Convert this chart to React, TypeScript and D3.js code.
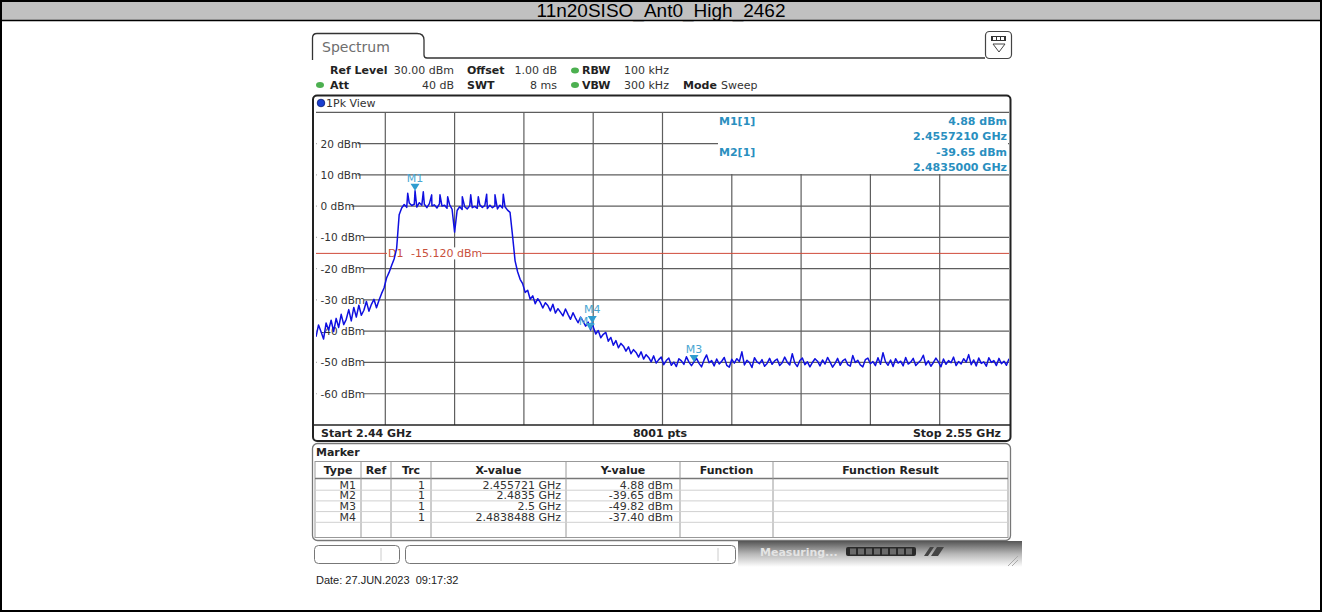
import React from 'react';
import * as d3 from 'd3';

// ---------------- data ----------------
const TITLE = '11n20SISO_Ant0_High_2462';
const DATE_TEXT = 'Date: 27.JUN.2023  09:17:32';
const START_MHZ = 2440;
const STOP_MHZ = 2550;
const STEP_MHZ = 0.4; // trace sample spacing (read every 0.4 MHz)
const REF_LEVEL = 30;
const BOTTOM_LEVEL = -70;
const Y_TICKS = [20, 10, 0, -10, -20, -30, -40, -50, -60];
const X_DIVS = 10;
const D1_LEVEL = -15.12;
const D1_TEXT = '-15.120 dBm';

// trace level (dBm), one value per 0.4 MHz from 2440 MHz
const TRACE_DBM = [
  -41.8, -38.0, -40.2, -42.5, -37.4, -39.6, -36.5, -40.1, -35.9, -38.8,
  -34.6, -37.9, -36.2, -33.1, -36.7, -32.4, -35.5, -31.7, -34.9, -33.3,
  -30.5, -33.6, -31.4, -29.8, -32.5, -30.1, -28.0, -26.2, -23.0, -21.2,
  -19.0, -16.9, -13.5, -2.8, -0.6, 0.5, -0.4, 1.0, 0.2, 0.6,
  -0.3, 1.1, 0.3, 0.6, -0.5, 0.8, 0.1, 0.4, -0.6, 0.7,
  0.0, 0.3, -0.7, 0.5, -1.0, -8.3, -1.4, -0.2, -1.1, -0.2,
  -0.9, 0.1, -0.5, -0.1, -0.7, 0.4, -0.4, 0.2, -0.8, 0.3,
  -0.5, 0.1, -0.9, 0.3, -0.6, -0.2, -1.3, -2.0, -9.5, -17.5,
  -21.0, -23.4, -24.8, -27.6, -26.9, -29.8, -28.7, -31.2, -29.6, -30.8,
  -32.6, -30.9, -31.8, -33.5, -31.4, -34.2, -32.8, -33.9, -35.1, -32.9,
  -34.6, -36.2, -34.1, -35.8, -37.3, -35.5, -36.9, -38.4, -37.1, -39.6,
  -38.6, -40.9, -39.8, -42.1, -41.0, -40.4, -43.2, -42.0, -44.5, -43.0,
  -45.3, -43.9, -44.8, -46.4, -45.0, -47.2, -45.9, -46.8, -48.3, -46.6,
  -48.9, -47.5, -48.4, -49.8, -47.9, -50.2, -49.1, -48.3, -50.7, -49.4,
  -48.6, -50.9, -49.9, -51.3, -48.8, -49.5, -50.6, -48.2, -49.9, -51.0,
  -49.8, -48.7, -50.3, -51.4, -49.2, -47.6, -50.1, -49.4, -51.1, -48.9,
  -50.5, -49.6, -48.4, -50.9, -51.5, -49.0, -50.2, -48.8, -49.7, -46.6,
  -50.8, -49.3, -50.0, -51.6, -48.5, -49.8, -50.4, -49.1, -51.2, -50.3,
  -48.7, -50.6, -49.5, -48.9, -51.0, -50.1, -48.3, -49.9, -50.8, -47.2,
  -50.2, -51.3, -49.4, -48.6, -50.7, -49.8, -51.4, -50.0, -48.8, -49.6,
  -51.1, -49.2, -50.5, -48.4, -49.9, -51.5, -50.3, -48.7, -50.9, -49.5,
  -48.9, -50.7, -51.2, -47.8, -50.0, -49.3, -50.8, -51.4, -49.1, -48.6,
  -50.4, -49.7, -51.0, -48.5, -50.6, -46.9, -49.8, -50.9, -49.2, -51.3,
  -48.8, -50.2, -49.6, -51.1, -48.4, -50.5, -49.9, -48.7, -51.0, -50.1,
  -49.3, -47.7, -50.8, -49.5, -51.2, -50.0, -48.6, -49.8, -51.4, -48.9,
  -50.6, -49.4, -50.1, -48.3, -51.0, -49.7, -50.5, -48.8, -49.9, -47.5,
  -50.7, -49.2, -51.1, -48.6, -50.3, -49.8, -51.2, -48.5, -50.0, -49.4,
  -51.0, -48.7, -50.4, -49.6, -50.9, -48.8,
];

// pilot / peak spikes seen on the in-band plateau and the M4 peak [MHz, dBm]
const TRACE_PEAKS: [number, number][] = [
  [2454.56, 4.1], [2455.721, 4.88], [2457.03, 4.6], [2458.36, 3.6], [2459.68, 3.6], [2460.9, 3.0],
  [2463.22, 3.0], [2464.56, 3.6], [2465.76, 3.0], [2467.09, 3.8], [2468.41, 3.6], [2469.73, 3.8],
  [2483.8488, -37.4],
];

const MARKER_NAMES = ['M1', 'M2', 'M3', 'M4'];
const MARKER_MHZ = [2455.721, 2483.5, 2500, 2483.8488];
const MARKER_DBM = [4.88, -39.65, -49.82, -37.4];

const INFO_LINES = [
  ['M1[1]', '4.88 dBm'],
  ['', '2.4557210 GHz'],
  ['M2[1]', '-39.65 dBm'],
  ['', '2.4835000 GHz'],
];

const TABLE_HEAD = ['Type', 'Ref', 'Trc', 'X-value', 'Y-value', 'Function', 'Function Result'];
const TABLE_TYPE = ['M1', 'M2', 'M3', 'M4'];
const TABLE_TRC = ['1', '1', '1', '1'];
const TABLE_X = ['2.455721 GHz', '2.4835 GHz', '2.5 GHz', '2.4838488 GHz'];
const TABLE_Y = ['4.88 dBm', '-39.65 dBm', '-49.82 dBm', '-37.40 dBm'];

// ---------------- layout ----------------
const W = 1322;
const H = 612;
const PX0 = 316, PX1 = 1009, PY0 = 112.3, PY1 = 425;
const INS = '"DejaVu Sans", Verdana, sans-serif';
const ARIAL = '"Liberation Sans", Arial, sans-serif';
const TRACE_COLOR = '#1010e0';
const MARK_COLOR = '#2f9ccf';
const INFO_COLOR = '#2a8fbf';
const GRID = '#5e5e5e';

const COLS = [315, 361, 391, 431, 566, 680, 773, 1008];

export default function App() {
  const x = d3.scaleLinear().domain([START_MHZ, STOP_MHZ]).range([PX0, PX1]);
  const y = d3.scaleLinear().domain([REF_LEVEL, BOTTOM_LEVEL]).range([PY0, PY1]);

  const base: [number, number][] = TRACE_DBM.map((v, i) => [START_MHZ + i * STEP_MHZ, v]);
  const pts = base.concat(TRACE_PEAKS).sort((a, b) => a[0] - b[0]);
  const line = d3.line<[number, number]>().x((d) => x(d[0])).y((d) => y(d[1]));
  const tracePath = line(pts) || '';

  const vStep = (STOP_MHZ - START_MHZ) / X_DIVS;
  const vLines = d3.range(X_DIVS + 1).map((k) => START_MHZ + k * vStep);
  const hLines = d3.range(REF_LEVEL, BOTTOM_LEVEL - 1, -10);

  const rowTop = 479.5;
  const rowH = 10.7;
  const labelOffset: Record<string, [number, number]> = { M2: [-3, 4], M4: [0, -1] };

  return (
    <svg width={W} height={H} style={{ position: 'absolute', left: 0, top: 0, background: '#fff' }}>
      <defs>
        <linearGradient id="sb" x1="0" y1="0" x2="0" y2="1">
          <stop offset="0" stopColor="#555" />
          <stop offset="0.5" stopColor="#b8b8b8" />
          <stop offset="1" stopColor="#ffffff" />
        </linearGradient>
        <clipPath id="plotclip">
          <rect x={PX0} y={PY0} width={PX1 - PX0} height={PY1 - PY0} />
        </clipPath>
      </defs>
      <rect x={0} y={0} width={W} height={H} fill="#fff" />
      {/* title bar */}
      <rect x={0} y={0} width={W} height={20} fill="#c0c0c0" />
      <line x1={0} y1={20.5} x2={W} y2={20.5} stroke="#000" strokeWidth={1.5} />
      <text x={661} y={16.5} textAnchor="middle" fontFamily={ARIAL} fontSize={19} fill="#000">{TITLE}</text>
      <rect x={1} y={1} width={W - 2} height={H - 2} fill="none" stroke="#000" strokeWidth={2} />

      {/* Spectrum tab */}
      <path d="M312.5,60 L312.5,38 Q312.5,33.5 317,33.5 L417,33.5 Q424,33.5 424,40 L424,55 Q424,58 427,58 L985,58" fill="none" stroke="#333" strokeWidth={1.3} />
      <text x={322} y={51.5} fontFamily={INS} fontSize={14} fill="#6e6e6e">Spectrum</text>
      {/* top-right icon */}
      <rect x={985.5} y={31.5} width={26} height={27} rx={4} fill="#fff" stroke="#444" strokeWidth={1.2} />
      <rect x={991} y={36} width={15} height={5} fill="#333" />
      <rect x={993} y={37} width={3} height={3} fill="#fff" />
      <rect x={997} y={37} width={3} height={3} fill="#fff" />
      <rect x={1001} y={37} width={3} height={3} fill="#fff" />
      <path d="M993,44 L1005,44 L999,52 Z" fill="none" stroke="#444" strokeWidth={1} />

      {/* settings */}
      <g fontFamily={INS} fontSize={11} fill="#222">
        <text x={330} y={74} fontWeight="bold">Ref Level</text>
        <text x={454} y={74} textAnchor="end" fill="#333">30.00 dBm</text>
        <text x={467} y={74} fontWeight="bold">Offset</text>
        <text x={557} y={74} textAnchor="end" fill="#333">1.00 dB</text>
        <ellipse cx={575} cy={70.5} rx={4} ry={3} fill="#4cb050" />
        <text x={582} y={74} fontWeight="bold">RBW</text>
        <text x={624} y={74} fill="#333">100 kHz</text>

        <ellipse cx={320} cy={85} rx={4} ry={3} fill="#4cb050" />
        <text x={330} y={89} fontWeight="bold">Att</text>
        <text x={454} y={89} textAnchor="end" fill="#333">40 dB</text>
        <text x={467} y={89} fontWeight="bold">SWT</text>
        <text x={557} y={89} textAnchor="end" fill="#333">8 ms</text>
        <ellipse cx={575} cy={85} rx={4} ry={3} fill="#4cb050" />
        <text x={582} y={89} fontWeight="bold">VBW</text>
        <text x={624} y={89} fill="#333">300 kHz</text>
        <text x={683} y={89} fontWeight="bold">Mode</text>
        <text x={721} y={89} fill="#333">Sweep</text>
      </g>

      {/* plot frame */}
      <rect x={313} y={95.5} width={697.5} height={345.5} rx={4} fill="#fff" stroke="#222" strokeWidth={2} />
      <circle cx={321} cy={103} r={3.8} fill="#1a3fd0" stroke="#0a1a70" strokeWidth={0.8} />
      <text x={326} y={107} fontFamily={INS} fontSize={11} fill="#333">1Pk View</text>

      {/* grid */}
      <g stroke={GRID} strokeWidth={1.2}>
        {vLines.slice(1, -1).map((f) => (
          <line key={'v' + f} x1={x(f)} y1={PY0} x2={x(f)} y2={PY1} />
        ))}
        {hLines.slice(0, -1).map((v) => (
          <line key={'h' + v} x1={PX0} y1={y(v)} x2={PX1} y2={y(v)} />
        ))}
      </g>
      <line x1={PX0 - 2} y1={PY1} x2={PX1 + 1} y2={PY1} stroke="#222" strokeWidth={1.5} />

      {/* marker info box */}
      <rect x={718} y={113} width={290} height={61} fill="#fff" />
      <g fontFamily={INS} fontSize={11} fontWeight="bold" fill={INFO_COLOR}>
        {INFO_LINES.map((l, i) => (
          <g key={'info' + i}>
            {l[0] && <text x={719} y={125 + i * 15.4}>{l[0]}</text>}
            <text x={1007} y={125 + i * 15.4} textAnchor="end">{l[1]}</text>
          </g>
        ))}
      </g>

      {/* y labels */}
      <g fontFamily={INS} fontSize={10.5} fill="#333">
        {Y_TICKS.map((v) => {
          const label = `${v} dBm`;
          const w = label.length * 6.05 + 2;
          return (
            <g key={'yl' + v}>
              <rect x={316.5} y={y(v) - 6} width={w + 3} height={12} fill="#fff" />
              <text x={320.5} y={y(v) + 4}>{label}</text>
            </g>
          );
        })}
      </g>

      {/* D1 line */}
      <line x1={PX0} y1={y(D1_LEVEL)} x2={PX1} y2={y(D1_LEVEL)} stroke="#d04a3a" strokeWidth={1} />
      <rect x={387} y={y(D1_LEVEL) - 6} width={95} height={12} fill="#fff" />
      <text x={388} y={y(D1_LEVEL) + 4} fontFamily={INS} fontSize={11} fill="#c8503c">D1</text>
      <text x={411} y={y(D1_LEVEL) + 4} fontFamily={INS} fontSize={11} fill="#c8503c">{D1_TEXT}</text>

      {/* trace */}
      <g clipPath="url(#plotclip)">
        <path d={tracePath} fill="none" stroke={TRACE_COLOR} strokeWidth={1.5} strokeLinejoin="round" />
      </g>

      {/* markers */}
      <g fontFamily={INS} fontSize={11}>
        {MARKER_NAMES.map((n, i) => {
          const mx = x(MARKER_MHZ[i]);
          const my = y(MARKER_DBM[i]);
          const off = labelOffset[n] || [0, 0];
          return (
            <g key={n}>
              <path d={`M${mx - 4.5},${my - 7} L${mx + 4.5},${my - 7} L${mx},${my} Z`} fill={MARK_COLOR} />
              <text x={mx + off[0]} y={my - 9 + off[1]} textAnchor="middle" fill="#4aa6d2">{n}</text>
            </g>
          );
        })}
      </g>

      {/* bottom axis row */}
      <g fontFamily={INS} fontSize={11} fontWeight="bold" fill="#222">
        <text x={321} y={437}>Start 2.44 GHz</text>
        <text x={660} y={437} textAnchor="middle">8001 pts</text>
        <text x={1001} y={437} textAnchor="end">Stop 2.55 GHz</text>
      </g>

      {/* marker table panel */}
      <rect x={312.5} y={443.5} width={698} height={97} rx={5} fill="#fff" stroke="#777" strokeWidth={1.3} />
      <text x={316} y={456} fontFamily={INS} fontSize={11} fontWeight="bold" fill="#222">Marker</text>
      <rect x={COLS[0]} y={461.5} width={COLS[7] - COLS[0]} height={76} fill="#fff" stroke="#999" strokeWidth={1} />
      <line x1={COLS[0]} y1={rowTop - 1} x2={COLS[7]} y2={rowTop - 1} stroke="#777" strokeWidth={1.5} />
      {COLS.slice(1, -1).map((c, i) => (
        <line key={'cs' + i} x1={c} y1={462} x2={c} y2={537.5} stroke="#9a9a9a" strokeWidth={1} />
      ))}
      {TABLE_TYPE.map((_, i) => (
        <line key={'rs' + i} x1={COLS[0]} y1={rowTop + (i + 1) * rowH} x2={COLS[7]} y2={rowTop + (i + 1) * rowH} stroke="#d0d0d0" strokeWidth={1} />
      ))}
      <g fontFamily={INS} fontSize={11} fontWeight="bold" fill="#222">
        {TABLE_HEAD.map((h, i) => (
          <text key={h} x={(COLS[i] + COLS[i + 1]) / 2} y={473.5} textAnchor="middle">{h}</text>
        ))}
      </g>
      <g fontFamily={INS} fontSize={11} fill="#333">
        {TABLE_TYPE.map((t, i) => {
          const by = rowTop + i * rowH + 9;
          return (
            <g key={'row' + i}>
              <text x={356} y={by} textAnchor="end">{t}</text>
              <text x={425} y={by} textAnchor="end">{TABLE_TRC[i]}</text>
              <text x={561} y={by} textAnchor="end">{TABLE_X[i]}</text>
              <text x={673} y={by} textAnchor="end">{TABLE_Y[i]}</text>
            </g>
          );
        })}
      </g>

      {/* status bar */}
      <rect x={738} y={541} width={284} height={26} fill="url(#sb)" />
      <rect x={314.5} y={545.5} width={85} height={18} rx={4} fill="#fff" stroke="#777" strokeWidth={1} />
      <line x1={381} y1={548} x2={381} y2={561} stroke="#ccc" />
      <rect x={405.5} y={545.5} width={330} height={18} rx={4} fill="#fff" stroke="#777" strokeWidth={1} />
      <line x1={718} y1={548} x2={718} y2={561} stroke="#ccc" />
      <text x={760} y={556} fontFamily={INS} fontSize={11} fontWeight="bold" fill="#e4e4e4">Measuring...</text>
      <rect x={846} y={547} width={70} height={9} rx={2} fill="#2a2a2a" />
      {d3.range(8).map((k) => (
        <rect key={'pb' + k} x={850 + k * 8} y={548.5} width={6} height={6} fill="#6a6a6a" />
      ))}
      <path d="M924,556 L930,547 L934,547 L928,556 Z M931,556 L937,547 L944,547 L938,556 Z" fill="#444" />
      <path d="M1008,566 L1018,556 M1012,566 L1018,560" stroke="#aaa" strokeWidth={1} />

      {/* date */}
      <text x={316} y={584} fontFamily={ARIAL} fontSize={11} fill="#222" style={{ whiteSpace: 'pre' }}>{DATE_TEXT}</text>
    </svg>
  );
}
